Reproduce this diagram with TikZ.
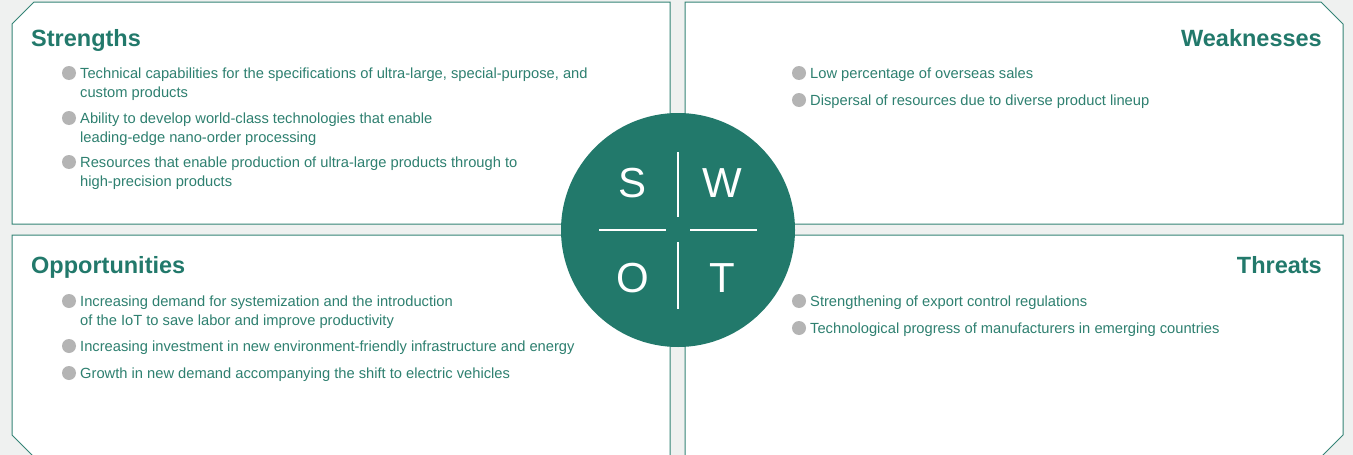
\documentclass[tikz,border=0pt]{standalone}
\usepackage{fontspec}
\setmainfont{Liberation Sans}
\usetikzlibrary{positioning}
\definecolor{swotgreen}{RGB}{34,121,107}
\definecolor{swotline}{RGB}{52,132,118}
\definecolor{swottext}{RGB}{46,128,112}
\definecolor{swotbg}{RGB}{239,241,240}
\definecolor{dotgray}{RGB}{180,180,180}

\tikzset{
  panel/.style={draw=swotline, fill=white, line width=1pt},
  heading/.style={inner sep=0pt, color=swotgreen, font=\bfseries\fontsize{23.5}{26}\selectfont},
  point/.style={inner sep=0pt, anchor=base west, align=left, color=swottext,
    font=\fontsize{14.7}{19.5}\selectfont},
  dot/.style={circle, fill=dotgray, minimum size=14pt, inner sep=0pt},
  letter/.style={white, font=\fontsize{42}{46}\selectfont}
}

\begin{document}
\begin{tikzpicture}[x=1pt, y=-1pt]

  % Background
  \useasboundingbox (0,0) rectangle (1353,455);
  \fill[swotbg] (0,0) rectangle (1353,455);

  % Four quadrant panels with one cut corner each
  \draw[panel] (34,2) -- (670,2) -- (670,224) -- (12,224) -- (12,24) -- cycle;
  \draw[panel] (685,2) -- (1321,2) -- (1343,24) -- (1343,224) -- (685,224) -- cycle;
  \draw[panel] (12,235) -- (670,235) -- (670,457) -- (34,457) -- (12,435) -- cycle;
  \draw[panel] (685,235) -- (1343,235) -- (1343,435) -- (1321,457) -- (685,457) -- cycle;

  % Strengths (multi-line items sit on the baseline of their last line)
  \node[heading, anchor=base west] (strengths) at (31,46) {Strengths};
  \node[dot] (s1dot) at (69,73) {};
  \node[point] (s1) at (80,97.5) {Technical capabilities for the specifications of ultra-large, special-purpose, and\\custom products};
  \node[dot] (s2dot) at (69,118) {};
  \node[point] (s2) at (80,142.5) {Ability to develop world-class technologies that enable\\leading-edge nano-order processing};
  \node[dot] (s3dot) at (69,162) {};
  \node[point] (s3) at (80,186.5) {Resources that enable production of ultra-large products through to\\high-precision products};

  % Weaknesses
  \node[heading, anchor=base east] (weaknesses) at (1322,46) {Weaknesses};
  \node[dot] (w1dot) at (799,73) {};
  \node[point] (w1) at (810,78) {Low percentage of overseas sales};
  \node[dot] (w2dot) at (799,100) {};
  \node[point] (w2) at (810,105) {Dispersal of resources due to diverse product lineup};

  % Opportunities
  \node[heading, anchor=base west] (opportunities) at (31,273) {Opportunities};
  \node[dot] (o1dot) at (69,301) {};
  \node[point] (o1) at (80,325.5) {Increasing demand for systemization and the introduction\\of the IoT to save labor and improve productivity};
  \node[dot] (o2dot) at (69,346) {};
  \node[point] (o2) at (80,351) {Increasing investment in new environment-friendly infrastructure and energy};
  \node[dot] (o3dot) at (69,373) {};
  \node[point] (o3) at (80,378) {Growth in new demand accompanying the shift to electric vehicles};

  % Threats
  \node[heading, anchor=base east] (threats) at (1322,273) {Threats};
  \node[dot] (t1dot) at (799,301) {};
  \node[point] (t1) at (810,306) {Strengthening of export control regulations};
  \node[dot] (t2dot) at (799,328) {};
  \node[point] (t2) at (810,333) {Technological progress of manufacturers in emerging countries};

  % Centre disc
  \node[circle, fill=swotgreen, minimum size=234pt, inner sep=0pt] (hub) at (678,230) {};
  \draw[white, line width=1.5pt] (678,152) -- (678,217);
  \draw[white, line width=1.5pt] (678,242) -- (678,309);
  \draw[white, line width=1.5pt] (599,230) -- (666,230);
  \draw[white, line width=1.5pt] (690,230) -- (757,230);
  \node[letter] (sl) at (633,183) {S};
  \node[letter] (wl) at (722,183) {W};
  \node[letter] (ol) at (633,278) {O};
  \node[letter] (tl) at (722,278) {T};

\end{tikzpicture}
\end{document}
